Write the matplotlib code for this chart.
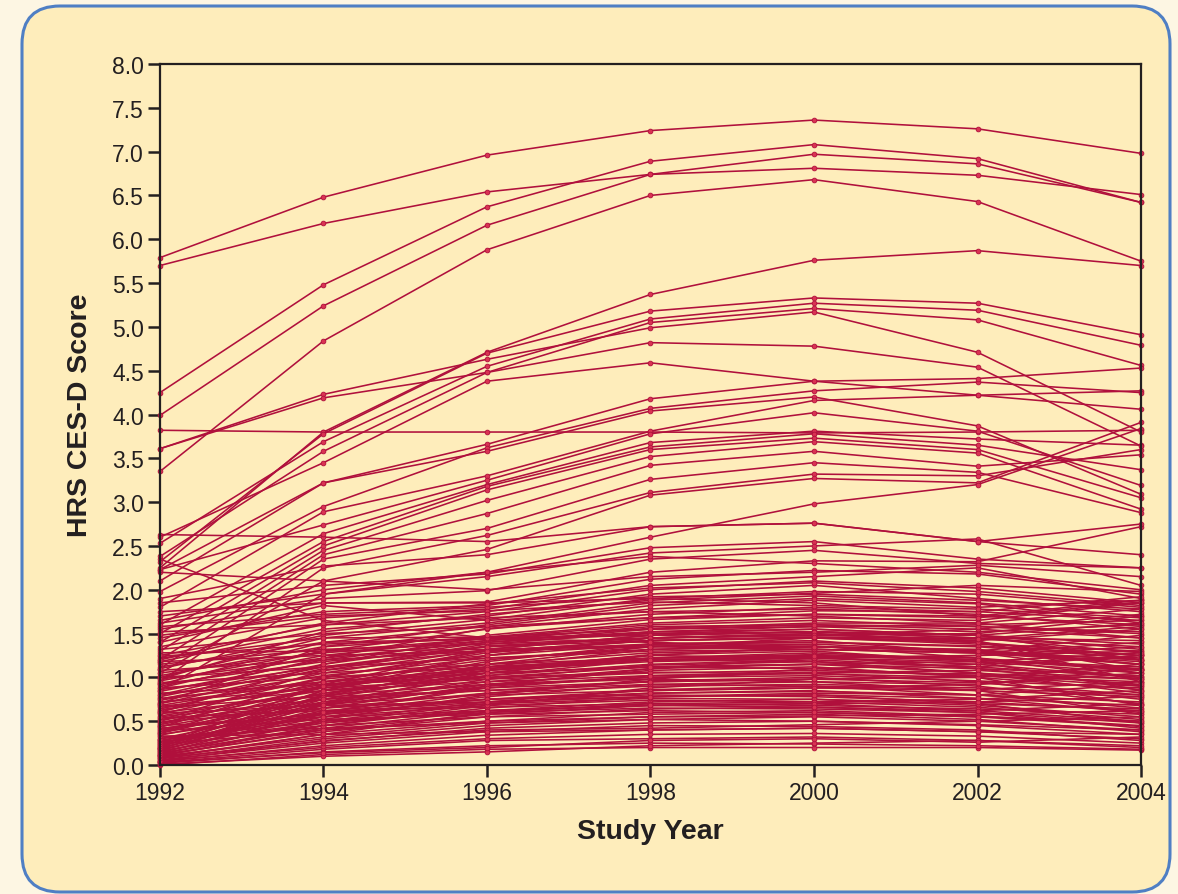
# spaghetti plot of HRS CES-D scores by study year

import matplotlib
matplotlib.use("Agg")
from matplotlib import pyplot as plt
from matplotlib.patches import FancyBboxPatch

years = [1992, 1994, 1996, 1998, 2000, 2002, 2004]

# highest trajectories
top_lines = [
	[5.79, 6.48, 6.96, 7.24, 7.36, 7.26, 6.98],
	[5.70, 6.18, 6.54, 6.74, 6.81, 6.73, 6.51],
	[4.25, 5.48, 6.37, 6.89, 7.08, 6.92, 6.42],
	[3.99, 5.24, 6.16, 6.74, 6.97, 6.86, 6.42],
	[3.35, 4.84, 5.88, 6.50, 6.68, 6.43, 5.75],
]

high_lines = [
	[2.25, 3.80, 4.71, 5.37, 5.76, 5.87, 5.70],
	[2.32, 3.78, 4.70, 5.18, 5.33, 5.27, 4.91],
	[2.53, 3.69, 4.55, 5.09, 5.27, 5.19, 4.79],
	[2.38, 3.58, 4.48, 5.05, 5.21, 5.08, 4.56],
	[3.61, 4.23, 4.63, 4.99, 5.17, 4.71, 3.80],
	[3.61, 4.19, 4.48, 4.82, 4.78, 4.54, 3.64],
	[2.60, 3.45, 4.38, 4.59, 4.38, 4.41, 4.53],
]

mid_lines = [
	[3.82, 3.80, 3.80, 3.80, 3.79, 3.80, 3.82],
	[2.10, 3.22, 3.66, 4.18, 4.38, 4.22, 4.27],
	[1.98, 2.95, 3.62, 4.07, 4.27, 4.37, 4.25],
	[2.23, 3.22, 3.58, 4.04, 4.20, 3.87, 3.09],
	[1.80, 2.89, 3.30, 3.81, 4.16, 4.22, 4.06],
	[2.23, 2.74, 3.25, 3.78, 4.02, 3.81, 3.19],
	[1.60, 2.64, 3.20, 3.68, 3.81, 3.72, 3.65],
	[1.50, 2.55, 3.18, 3.63, 3.78, 3.65, 3.37],
	[1.40, 2.50, 3.14, 3.60, 3.73, 3.60, 3.05],
	[1.30, 2.45, 3.02, 3.52, 3.69, 3.56, 2.92],
	[1.20, 2.40, 2.87, 3.42, 3.58, 3.41, 3.54],
	[1.10, 2.35, 2.70, 3.26, 3.45, 3.34, 2.88],
	[0.95, 2.25, 2.62, 3.11, 3.32, 3.30, 3.60],
	[1.05, 2.10, 2.46, 3.08, 3.27, 3.22, 3.91],
	[0.85, 1.95, 2.20, 2.60, 2.98, 3.20, 3.84],
	[1.90, 2.27, 2.40, 2.72, 2.76, 2.55, 2.75],
]

upper_band = [
	[1.85, 2.05, 2.18, 2.48, 2.55, 2.35, 2.25],
	[1.70, 1.95, 2.15, 2.42, 2.50, 2.58, 2.05],
	[2.35, 1.65, 1.45, 1.40, 1.35, 1.30, 1.20],
	[1.62, 1.90, 1.99, 2.35, 2.45, 2.30, 2.25],
	[1.55, 1.85, 1.86, 2.20, 2.33, 2.32, 2.72],
	[1.45, 1.75, 1.82, 2.12, 2.22, 2.18, 1.95],
	[1.35, 1.68, 1.78, 2.05, 2.15, 2.25, 1.90],
	[1.25, 1.60, 1.75, 2.00, 2.10, 2.02, 1.85],
	[1.18, 1.55, 1.70, 1.95, 2.05, 1.90, 1.75],
	[1.10, 1.48, 1.66, 1.90, 1.98, 1.95, 1.80],
	[1.00, 1.45, 1.62, 1.85, 1.93, 1.85, 1.70],
	[0.92, 1.40, 1.58, 1.78, 1.88, 1.80, 1.88],
	[1.75, 1.85, 1.85, 1.90, 1.85, 1.70, 1.60],
	[0.88, 1.30, 1.55, 1.72, 1.80, 1.75, 1.65],
	[1.52, 1.60, 1.68, 1.75, 1.78, 1.72, 1.55],
	[0.80, 1.22, 1.56, 1.68, 1.76, 1.75, 1.92],
	[2.20, 2.10, 2.00, 2.15, 2.20, 2.28, 2.15],
	[2.63, 2.60, 2.55, 2.72, 2.76, 2.55, 2.40],
	[1.65, 2.00, 2.20, 2.38, 2.30, 2.20, 2.00],
	[1.40, 1.82, 1.65, 1.75, 1.70, 1.62, 1.45],
	[1.58, 1.72, 1.80, 1.92, 1.95, 1.88, 1.78],
	[0.70, 1.35, 1.60, 1.82, 1.90, 1.84, 1.62],
	[1.20, 1.62, 1.84, 2.02, 2.08, 1.98, 1.82],
	[0.60, 1.15, 1.48, 1.66, 1.72, 1.68, 1.86],
	[1.48, 1.70, 1.76, 1.86, 1.82, 1.78, 1.68],
	[0.98, 1.52, 1.72, 1.88, 1.96, 2.05, 1.98],
]

low_band = [
	[0.00, 0.12, 0.18, 0.20, 0.20, 0.20, 0.17],
	[0.02, 0.15, 0.22, 0.25, 0.24, 0.22, 0.18],
	[0.03, 0.18, 0.28, 0.30, 0.32, 0.28, 0.20],
	[0.05, 0.20, 0.30, 0.35, 0.36, 0.33, 0.25],
	[0.04, 0.22, 0.34, 0.40, 0.42, 0.38, 0.30],
	[0.06, 0.25, 0.38, 0.45, 0.44, 0.40, 0.28],
	[0.08, 0.27, 0.42, 0.48, 0.50, 0.45, 0.35],
	[0.07, 0.30, 0.45, 0.52, 0.55, 0.50, 0.40],
	[0.10, 0.32, 0.48, 0.55, 0.58, 0.52, 0.38],
	[0.09, 0.35, 0.50, 0.60, 0.62, 0.56, 0.45],
	[0.12, 0.38, 0.55, 0.64, 0.66, 0.60, 0.42],
	[0.11, 0.40, 0.58, 0.68, 0.70, 0.62, 0.50],
	[0.14, 0.42, 0.62, 0.72, 0.75, 0.68, 0.55],
	[0.13, 0.45, 0.65, 0.78, 0.80, 0.70, 0.48],
	[0.16, 0.48, 0.70, 0.82, 0.85, 0.76, 0.60],
	[0.15, 0.50, 0.72, 0.86, 0.90, 0.80, 0.65],
	[0.18, 0.55, 0.78, 0.92, 0.95, 0.85, 0.58],
	[0.17, 0.58, 0.82, 0.96, 1.00, 0.90, 0.70],
	[0.20, 0.60, 0.88, 1.02, 1.05, 0.95, 0.75],
	[0.19, 0.65, 0.92, 1.08, 1.12, 1.00, 0.68],
	[0.22, 0.68, 0.98, 1.14, 1.18, 1.05, 0.82],
	[0.21, 0.72, 1.02, 1.20, 1.24, 1.10, 0.90],
	[0.24, 0.75, 1.08, 1.26, 1.30, 1.18, 0.85],
	[0.23, 0.80, 1.12, 1.32, 1.36, 1.22, 0.98],
	[0.26, 0.85, 1.18, 1.38, 1.42, 1.28, 1.05],
	[0.25, 0.62, 0.75, 0.80, 0.78, 0.72, 0.62],
	[0.28, 0.55, 0.68, 0.74, 0.72, 0.66, 0.52],
	[0.30, 0.50, 0.60, 0.65, 0.64, 0.60, 0.48],
	[0.27, 0.45, 0.55, 0.58, 0.60, 0.55, 0.44],
	[0.32, 0.42, 0.48, 0.52, 0.50, 0.46, 0.40],
	[0.34, 0.70, 0.95, 1.10, 1.15, 1.05, 0.92],
	[0.36, 0.78, 1.05, 1.22, 1.28, 1.20, 1.10],
	[0.38, 0.90, 1.25, 1.45, 1.50, 1.40, 1.20],
	[0.40, 0.65, 0.82, 0.90, 0.92, 0.88, 0.80],
	[0.42, 0.58, 0.70, 0.76, 0.75, 0.70, 0.64],
	[0.44, 0.75, 0.92, 1.00, 1.02, 0.96, 0.88],
	[0.46, 0.82, 1.00, 1.12, 1.10, 1.02, 0.95],
	[0.48, 0.88, 1.10, 1.25, 1.22, 1.15, 1.00],
	[0.50, 0.95, 1.20, 1.35, 1.38, 1.30, 1.15],
	[0.52, 0.70, 0.80, 0.85, 0.88, 0.85, 0.78],
	[0.54, 0.62, 0.66, 0.70, 0.68, 0.64, 0.58],
	[0.56, 0.85, 1.02, 1.15, 1.20, 1.12, 1.25],
	[0.58, 1.00, 1.28, 1.42, 1.45, 1.38, 1.30],
	[0.60, 0.80, 0.92, 0.98, 0.95, 0.92, 1.10],
	[0.62, 0.92, 1.08, 1.18, 1.22, 1.25, 1.35],
	[0.64, 1.05, 1.32, 1.48, 1.52, 1.45, 1.28],
	[0.66, 0.78, 0.85, 0.92, 0.90, 0.86, 0.95],
	[0.68, 0.98, 1.15, 1.28, 1.32, 1.28, 1.40],
	[0.70, 1.10, 1.38, 1.52, 1.55, 1.48, 1.38],
	[0.72, 0.88, 0.98, 1.05, 1.08, 1.02, 0.90],
	[0.74, 1.02, 1.22, 1.32, 1.35, 1.30, 1.48],
	[0.76, 0.95, 1.05, 1.12, 1.15, 1.10, 1.02],
	[0.78, 1.15, 1.40, 1.55, 1.58, 1.52, 1.60],
	[0.80, 1.08, 1.25, 1.38, 1.40, 1.35, 1.22],
	[0.82, 0.92, 1.00, 1.06, 1.04, 1.00, 0.86],
	[0.84, 1.20, 1.42, 1.58, 1.60, 1.55, 1.45],
	[0.86, 1.12, 1.30, 1.42, 1.45, 1.42, 1.55],
	[0.88, 1.00, 1.12, 1.20, 1.18, 1.12, 1.00],
	[0.90, 1.25, 1.45, 1.60, 1.65, 1.58, 1.50],
	[0.92, 1.18, 1.35, 1.45, 1.48, 1.50, 1.70],
	[0.94, 1.05, 1.15, 1.22, 1.25, 1.20, 1.12],
	[0.96, 1.30, 1.44, 1.56, 1.62, 1.62, 1.78],
	[0.98, 1.22, 1.40, 1.50, 1.55, 1.48, 1.32],
	[1.00, 1.12, 1.22, 1.30, 1.32, 1.28, 1.18],
	[1.02, 1.35, 1.46, 1.62, 1.68, 1.65, 1.85],
	[1.05, 1.28, 1.42, 1.52, 1.58, 1.60, 1.65],
	[1.08, 1.20, 1.30, 1.38, 1.40, 1.36, 1.25],
	[1.12, 1.40, 1.44, 1.48, 1.52, 1.45, 1.42],
	[1.15, 1.32, 1.38, 1.45, 1.48, 1.55, 1.72],
	[1.18, 1.25, 1.30, 1.35, 1.32, 1.28, 1.15],
	[1.22, 1.45, 1.46, 1.55, 1.60, 1.58, 1.52],
	[1.24, 1.38, 1.44, 1.50, 1.52, 1.48, 1.62],
	[1.28, 1.30, 1.32, 1.36, 1.35, 1.30, 1.20],
	[1.32, 1.50, 1.58, 1.68, 1.72, 1.70, 1.88],
	[0.01, 0.10, 0.15, 0.22, 0.25, 0.28, 0.22],
	[0.03, 0.14, 0.20, 0.28, 0.30, 0.26, 0.32],
	[0.05, 0.28, 0.40, 0.42, 0.46, 0.50, 0.55],
	[0.08, 0.35, 0.60, 0.70, 0.72, 0.75, 0.85],
	[0.10, 0.45, 0.68, 0.88, 0.98, 1.02, 1.10],
	[0.12, 0.52, 0.80, 0.98, 1.10, 1.15, 1.25],
	[0.14, 0.60, 0.90, 1.10, 1.22, 1.25, 1.30],
	[0.16, 0.70, 1.05, 1.25, 1.35, 1.32, 1.15],
	[0.18, 0.78, 1.15, 1.35, 1.45, 1.40, 1.08],
	[0.20, 0.85, 1.25, 1.45, 1.50, 1.42, 0.95],
	[0.22, 0.92, 1.32, 1.48, 1.52, 1.48, 1.20],
	[0.24, 0.40, 0.50, 0.55, 0.56, 0.58, 0.62],
	[0.26, 0.48, 0.62, 0.68, 0.70, 0.72, 0.78],
	[0.28, 0.58, 0.75, 0.85, 0.88, 0.92, 1.05],
	[0.30, 0.68, 0.90, 1.00, 1.05, 1.08, 0.98],
	[0.33, 0.35, 0.38, 0.40, 0.42, 0.38, 0.35],
	[0.35, 0.60, 0.72, 0.78, 0.82, 0.80, 0.72],
	[0.37, 0.82, 1.08, 1.20, 1.22, 1.18, 1.05],
	[0.39, 0.52, 0.58, 0.62, 0.60, 0.55, 0.50],
	[0.41, 0.72, 0.88, 0.95, 0.98, 1.00, 1.15],
	[0.43, 1.00, 1.30, 1.42, 1.46, 1.40, 1.25],
	[0.45, 0.55, 0.62, 0.68, 0.66, 0.62, 0.70],
	[0.47, 0.90, 1.12, 1.22, 1.26, 1.22, 1.08],
	[0.49, 0.65, 0.75, 0.82, 0.84, 0.80, 0.92],
	[0.51, 1.08, 1.36, 1.45, 1.48, 1.44, 1.35],
	[0.55, 0.75, 0.85, 0.95, 0.98, 0.94, 0.80],
	[0.59, 0.68, 0.72, 0.78, 0.80, 0.76, 0.68],
	[0.63, 0.90, 1.05, 1.12, 1.15, 1.18, 1.28],
	[0.67, 0.85, 0.95, 1.02, 1.06, 1.04, 0.98],
	[0.71, 0.95, 1.10, 1.20, 1.24, 1.20, 1.08],
	[0.75, 1.12, 1.35, 1.42, 1.46, 1.44, 1.58],
]

y_ticks = [0.0, 0.5, 1.0, 1.5, 2.0, 2.5, 3.0, 3.5, 4.0, 4.5, 5.0, 5.5, 6.0, 6.5, 7.0, 7.5, 8.0]

line_color = '#b0103c'
dot_color = '#d93352'
ink = '#231f20'

plt.rcParams['font.family'] = ['Liberation Sans', 'DejaVu Sans']

fig = plt.figure(figsize=(11.78, 8.95), dpi=100, facecolor='#fdf6e3')

# rounded panel behind the chart
panel = FancyBboxPatch((0.22, 0.02), 11.48, 8.86,
	boxstyle="round,pad=0,rounding_size=0.38",
	transform=fig.dpi_scale_trans, facecolor='#feedbb',
	edgecolor='#4f7fc4', linewidth=2.2, zorder=-10)
fig.patches.append(panel)

ax = fig.add_axes([0.1358, 0.1441, 0.8328, 0.7833])
ax.set_facecolor('none')
ax.set_zorder(5)

for group in (low_band, upper_band, mid_lines, high_lines, top_lines):
	for vals in group:
		ax.plot(years, vals, color=line_color, linewidth=1.15,
			marker='o', markersize=3.4, markerfacecolor=dot_color,
			markeredgecolor=line_color, markeredgewidth=0.6,
			clip_on=False, zorder=3)

ax.set_xlim(1992, 2004)
ax.set_ylim(0, 8)
ax.set_xticks(years)
ax.set_yticks(y_ticks)
ax.set_yticklabels(['%.1f' % t for t in y_ticks])

for side in ('left', 'bottom', 'top', 'right'):
	ax.spines[side].set_color(ink)
	ax.spines[side].set_linewidth(1.6)
	ax.spines[side].set_zorder(4)

ax.tick_params(axis='both', direction='out', length=8.5, width=1.8,
	color=ink, labelcolor=ink, labelsize=16.5, pad=3)

ax.set_xlabel('Study Year', fontsize=20.5, fontweight='bold', color=ink, labelpad=10)
ax.set_ylabel('HRS CES-D Score', fontsize=20.5, fontweight='bold', color=ink, labelpad=14)

fig.savefig('out.png', dpi=100, facecolor=fig.get_facecolor())
